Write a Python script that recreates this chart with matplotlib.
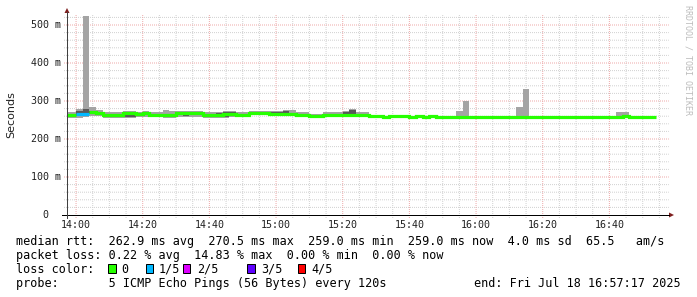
import numpy as np
import matplotlib
matplotlib.use("Agg")
import matplotlib.pyplot as plt
from matplotlib.patches import Rectangle, Polygon
from matplotlib.lines import Line2D

# ---------------- data ----------------
# 2-minute RRD steps, start time of each step in minutes after 14:00
STEP_MIN = 2
step_start = np.arange(-4, 174, STEP_MIN)

median_ms = [263, 263, 267, 267, 270, 268, 262, 262, 262, 268, 268, 266, 268, 264, 264,
             263, 263, 268, 268, 268, 268, 264, 264, 264, 265, 266, 264, 264, 269, 269,
             269, 266, 266, 265, 265, 264, 263, 260, 260, 264, 264, 264, 264, 264, 262,
             264, 260, 260, 259, 260, 260, 260, 259, 260, 259, 260,
             259, 259, 259, 259, 259, 259, 259, 259, 259, 259, 259, 259, 259, 259,
             259, 259, 259, 259, 259, 259, 259, 259, 259, 259, 259, 259, 259,
             259, 261.5, 259, 259, 259, 259]

ping_min = [256, 256, 256, 257, 261, 260, 255, 255, 255, 256, 256, 257, 257, 257, 257,
            255, 255, 258, 258, 259, 259, 256, 256, 256, 256, 257, 257, 257, 262, 262,
            262, 260, 260, 260, 260, 260, 257, 255, 255, 259, 259, 259, 259, 260, 257,
            259, 258, 258, 258.5, 259, 259, 259, 258.5, 259, 258.5, 259,
            258.5, 258.5, 258.5, 258.5, 258.5, 258.5, 258.5, 258.5, 258.5, 258.5, 258.5, 258.5, 258.5, 258.5,
            258.5, 258.5, 258.5, 258.5, 258.5, 258.5, 258.5, 258.5, 258.5, 258.5, 258.5, 258.5, 258.5,
            258.5, 259, 258.5, 258.5, 258.5, 258.5]

ping_2nd = [259, 259, 260, 261, 266, 265, 259, 257, 257, 258, 258, 260, 262, 260, 260,
            257, 257, 262, 261, 262, 262, 258, 258, 260, 258, 260, 260, 260, 266, 266,
            266, 263, 263, 262, 262, 262, 260, 258, 258, 261, 261, 261, 262, 262, 260,
            262, 259, 259, 259, 260, 260, 260, 259, 260, 259, 260,
            259, 259, 259, 259, 259, 259, 259, 259, 259, 259, 259, 259, 259, 259,
            259, 259, 259, 259, 259, 259, 259, 259, 259, 259, 259, 259, 259,
            259, 261, 259, 259, 259, 259]

ping_4th = [266, 266, 275, 279, 274, 272, 266, 264, 264, 270, 270, 268, 270, 266, 266,
            265, 265, 272, 272, 270, 270, 266, 266, 268, 270, 270, 266, 266, 271, 271,
            271, 270, 270, 275, 268, 266, 266, 262, 262, 266, 266, 266, 272, 276, 264,
            266, 261, 261, 260, 261, 261, 261, 260, 261, 260, 261,
            260, 260, 260, 260, 260, 260, 260, 260, 260, 260, 260, 260, 260, 260,
            260, 260, 260, 260, 260, 260, 260, 260, 260, 260, 260, 260, 260,
            260, 262, 260, 260, 260, 260]

ping_max = [272, 272, 278, 523, 284, 276, 271, 272, 272, 273, 273, 272, 274, 272, 272,
            276, 274, 274, 274, 273, 273, 271, 272, 272, 274, 273, 271, 271, 273, 273,
            273, 275, 275, 276, 276, 272, 270, 266, 266, 271, 271, 270, 275, 278, 270,
            270, 262, 262, 261, 262, 262, 262, 261, 262, 261, 262,
            261, 261, 261, 275, 301, 261, 261, 261, 261, 261, 261, 261, 283, 332,
            261, 261, 261, 261, 261, 261, 261, 261, 261, 261, 261, 261, 261,
            270, 270, 261, 261, 261, 261]

loss_pct = [0, 0, 4.8, 14.83] + [0] * 85

loss_colors = ["#26ff00", "#00b8ff", "#dd00ff", "#5e00ff", "#ff0000"]
loss_labels = ["0", "1/5", "2/5", "3/5", "4/5"]
x_tick_pos = [0, 20, 40, 60, 80, 100, 120, 140, 160]
x_tick_labels = ["14:00", "14:20", "14:40", "15:00", "15:20", "15:40", "16:00", "16:20", "16:40"]
y_tick_pos = [0, 100, 200, 300, 400, 500]
y_tick_labels = ["0  ", "100 m", "200 m", "300 m", "400 m", "500 m"]

legend_line1 = "median rtt:  262.9 ms avg  270.5 ms max  259.0 ms min  259.0 ms now  4.0 ms sd  65.5   am/s"
legend_line2 = "packet loss: 0.22 % avg  14.83 % max  0.00 % min  0.00 % now"
legend_line3 = "loss color:"
probe_text = "probe:       5 ICMP Echo Pings (56 Bytes) every 120s"
end_text = "end: Fri Jul 18 16:57:17 2025"

# ---------------- figure ----------------
W, H = 697, 297
fig = plt.figure(figsize=(W / 100, H / 100), dpi=100)
fig.patch.set_facecolor("white")

def fx(p):
    return p / W

def fy(p):
    return 1 - p / H

AX_L, AX_R, AX_T, AX_B = 67, 667, 14, 215
ax = fig.add_axes([fx(AX_L), fy(AX_B), (AX_R - AX_L) / W, (AX_B - AX_T) / H])
xmin, xmax = -2.717, 177.283
ymax = (AX_B - AX_T) / 38.0 * 100
ax.set_xlim(xmin, xmax)
ax.set_ylim(0, ymax)
for s in ax.spines.values():
    s.set_visible(False)
ax.set_xticks([])
ax.set_yticks([])

# grid (dotted, drawn unsnapped so the 1px dots stay crisp)
dot = (0, (1, 1))
ext_y = 3 / (AX_B - AX_T)
ext_x = 3 / (AX_R - AX_L)
minor_col = "#d2d2d2"
major_col = "#eeaaaa"
for m in range(0, 180, 5):
    if m % 20 == 0:
        continue
    ax.axvline(m, ymin=-ext_y, ymax=1, color=minor_col, lw=0.72, ls=dot, zorder=0,
               clip_on=False, snap=False)
for v in range(20, 540, 20):
    if v % 100 == 0 or v > ymax:
        continue
    ax.axhline(v, xmin=-ext_x, xmax=1.003, color=minor_col, lw=0.72, ls=dot, zorder=0,
               clip_on=False, snap=False)
for m in x_tick_pos:
    ax.axvline(m, ymin=-ext_y, ymax=1, color=major_col, lw=0.72, ls=dot, zorder=0.5,
               clip_on=False, snap=False)
for v in y_tick_pos[1:]:
    ax.axhline(v, xmin=-ext_x, xmax=1.003, color=major_col, lw=0.72, ls=dot, zorder=0.5,
               clip_on=False, snap=False)

# smoke
edges = np.append(step_start, step_start[-1] + STEP_MIN)
def ext(a):
    a = np.asarray(a, dtype=float)
    return np.append(a, a[-1])

ax.fill_between(edges, ext(ping_min), ext(ping_max), step="post", color="#a4a4a4", lw=0, zorder=2)
ax.fill_between(edges, ext(ping_2nd), ext(ping_4th), step="post", color="#585858", lw=0, zorder=3)

# median coloured by loss
med = np.asarray(median_ms, dtype=float)
lvl = np.ceil(np.asarray(loss_pct) * 5 / 100).astype(int)
for li, col in enumerate(loss_colors):
    y = np.where(lvl == li, med, np.nan)
    if np.all(np.isnan(y)):
        continue
    ax.plot(edges, ext(y), drawstyle="steps-post", color=col, lw=2.3,
            solid_joinstyle="miter", solid_capstyle="butt", zorder=4)

# axes lines and arrows
fig.add_artist(Line2D([fx(62), fx(669)], [fy(215), fy(215)], color="black", lw=0.72))
fig.add_artist(Line2D([fx(67), fx(67)], [fy(218), fy(12)], color="#404040", lw=0.72))
arrow_col = "#7f1f1f"
fig.add_artist(Polygon([(fx(669), fy(212.5)), (fx(674), fy(215)), (fx(669), fy(217.5))],
                       closed=True, color=arrow_col, lw=0))
fig.add_artist(Polygon([(fx(64.5), fy(13)), (fx(67), fy(8)), (fx(69.5), fy(13))],
                       closed=True, color=arrow_col, lw=0))

mono = "DejaVu Sans Mono"
# tick labels
for pos, lab in zip(x_tick_pos, x_tick_labels):
    xp = AX_L + (pos - xmin) / (xmax - xmin) * (AX_R - AX_L)
    fig.text(fx(xp), fy(228.5), lab, family=mono, fontsize=7.2, ha="center", va="baseline", color="#202020")
for pos, lab in zip(y_tick_pos, y_tick_labels):
    yp = AX_B - pos / ymax * (AX_B - AX_T)
    fig.text(fx(60.5), fy(yp + 3.5), lab, family=mono, fontsize=7.2, ha="right", va="baseline", color="#202020")

fig.text(fx(11), fy(115), "Seconds", family="DejaVu Sans", fontsize=8, rotation=90,
         ha="center", va="center", color="#202020")

fig.text(fx(688), fy(5), "RRDTOOL / TOBI OETIKER", family=mono, fontsize=6, rotation=270,
         ha="center", va="top", color="#bcbcbc")

# legend
fs = 8.5
fig.text(fx(16), fy(245), legend_line1, family=mono, fontsize=fs, ha="left", va="baseline", color="black")
fig.text(fx(16), fy(259), legend_line2, family=mono, fontsize=fs, ha="left", va="baseline", color="black")
fig.text(fx(16), fy(273), legend_line3, family=mono, fontsize=fs, ha="left", va="baseline", color="black")
box_x = [108.3, 145.7, 182.7, 247.3, 297.7]
lab_x = [121.7, 159, 196.7, 261, 311.7]
for bx, lx, col, lab in zip(box_x, lab_x, loss_colors, loss_labels):
    fig.add_artist(Rectangle((fx(bx), fy(272.7)), 7.7 / W, 8.4 / H, transform=fig.transFigure,
                             facecolor=col, edgecolor="black", lw=0.72))
    fig.text(fx(lx), fy(273), lab, family=mono, fontsize=fs, ha="left", va="baseline", color="black")

fig.text(fx(16), fy(287), probe_text, family=mono, fontsize=fs, ha="left", va="baseline", color="black")
fig.text(fx(681), fy(287), end_text, family=mono, fontsize=fs, ha="right", va="baseline", color="black")

fig.savefig("out.png", dpi=100, facecolor="white")
